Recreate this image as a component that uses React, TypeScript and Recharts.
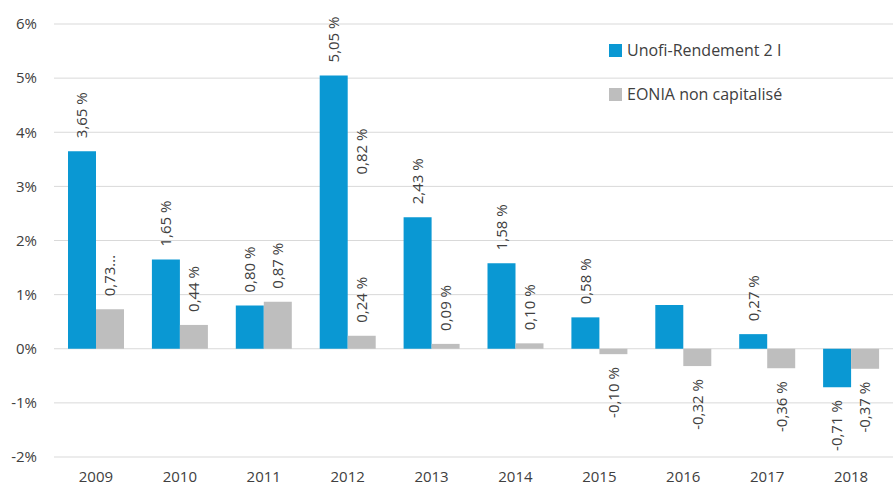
import { BarChart, Bar, XAxis, YAxis, CartesianGrid, LabelList } from "recharts";

const years = ["2009", "2010", "2011", "2012", "2013", "2014", "2015", "2016", "2017", "2018"];
const unofi = [3.65, 1.65, 0.8, 5.05, 2.43, 1.58, 0.58, 0.81, 0.27, -0.71];
const eonia = [0.73, 0.44, 0.87, 0.24, 0.09, 0.1, -0.1, -0.32, -0.36, -0.37];
const unofiLabels = ["3,65 %", "1,65 %", "0,80 %", "5,05 %", "2,43 %", "1,58 %", "0,58 %", "", "0,27 %", "-0,71 %"];
const eoniaLabels = ["0,73...", "0,44 %", "0,87 %", "0,24 %", "0,09 %", "0,10 %", "-0,10 %", "-0,32 %", "-0,36 %", "-0,37 %"];
// stray label sitting above the 2012 EONIA bar, and the level its foot sits at
const eoniaNotes = ["", "", "", "0,82 %", "", "", "", "", "", ""];
const eoniaNoteLevels = [0, 0, 0, 3.22, 0, 0, 0, 0, 0, 0];
const yTicks = [-2, -1, 0, 1, 2, 3, 4, 5, 6];
const seriesNames = ["Unofi-Rendement 2 I", "EONIA non capitalisé"];

const BLUE = "#0A98D3";
const GREY = "#BEBEBE";
const TEXT = "#404040";
const FONT = "'Open Sans', sans-serif";

const data = years.map((year, i) => ({
  year,
  unofi: unofi[i],
  eonia: eonia[i],
}));

function makeLabel(texts: string[], notes?: string[], noteLevels?: number[]) {
  return (props: any) => {
    const { x, y, width, height, value, index } = props;
    const text = texts[index];
    const cx = Number(x) + Number(width) / 2;
    const top = Math.min(Number(y), Number(y) + Number(height));
    const bottom = Math.max(Number(y), Number(y) + Number(height));
    const neg = Number(value) < 0;
    const out = [];
    if (text) {
      const ay = neg ? bottom + 13 : top - 13;
      out.push(
        <text
          key="v"
          x={cx}
          y={ay}
          dy="0.36em"
          transform={`rotate(-90, ${cx}, ${ay})`}
          textAnchor={neg ? "end" : "start"}
          fill={TEXT}
          fontSize={15}
          fontFamily={FONT}
        >
          {text}
        </text>
      );
    }
    if (notes && noteLevels && notes[index]) {
      const zero = neg ? top : bottom;
      const ppu = Math.abs(Number(height)) / Math.abs(Number(value));
      const ny = zero - noteLevels[index] * ppu;
      out.push(
        <text
          key="n"
          x={cx}
          y={ny}
          dy="0.36em"
          transform={`rotate(-90, ${cx}, ${ny})`}
          textAnchor="start"
          fill={TEXT}
          fontSize={15}
          fontFamily={FONT}
        >
          {notes[index]}
        </text>
      );
    }
    return <g>{out}</g>;
  };
}

export default function App() {
  const colors = [BLUE, GREY];
  return (
    <div style={{ position: "absolute", left: 0, top: 0, width: 893, height: 491, background: "#fff" }}>
      <BarChart
        width={893}
        height={491}
        data={data}
        margin={{ top: 24, right: 0, bottom: 4, left: 0 }}
        barGap={0}
        barCategoryGap={14}
      >
        <CartesianGrid vertical={false} stroke="#D9D9D9" />
        <XAxis
          dataKey="year"
          axisLine={false}
          tickLine={false}
          tickSize={0}
          tickMargin={14}
          height={30}
          tick={{ fill: TEXT, fontSize: 15, fontFamily: FONT }}
          interval={0}
        />
        <YAxis
          domain={[-2, 6]}
          ticks={yTicks}
          width={54}
          axisLine={false}
          tickLine={false}
          tickSize={0}
          tickMargin={17}
          tickFormatter={(v: number) => `${v}%`}
          tick={{ fill: TEXT, fontSize: 15, fontFamily: FONT }}
        />
        <Bar dataKey="unofi" name={seriesNames[0]} fill={BLUE} barSize={28} isAnimationActive={false}>
          <LabelList dataKey="unofi" content={makeLabel(unofiLabels)} />
        </Bar>
        <Bar dataKey="eonia" name={seriesNames[1]} fill={GREY} barSize={28} isAnimationActive={false}>
          <LabelList dataKey="eonia" content={makeLabel(eoniaLabels, eoniaNotes, eoniaNoteLevels)} />
        </Bar>
      </BarChart>
      <div style={{ position: "absolute", left: 609, top: 28, fontFamily: FONT, fontSize: 16, color: TEXT }}>
        {seriesNames.map((name, i) => (
          <div key={name} style={{ display: "flex", alignItems: "center", height: 44 }}>
            <span style={{ width: 13, height: 13, background: colors[i], marginRight: 5, display: "inline-block" }} />
            <span>{name}</span>
          </div>
        ))}
      </div>
    </div>
  );
}
